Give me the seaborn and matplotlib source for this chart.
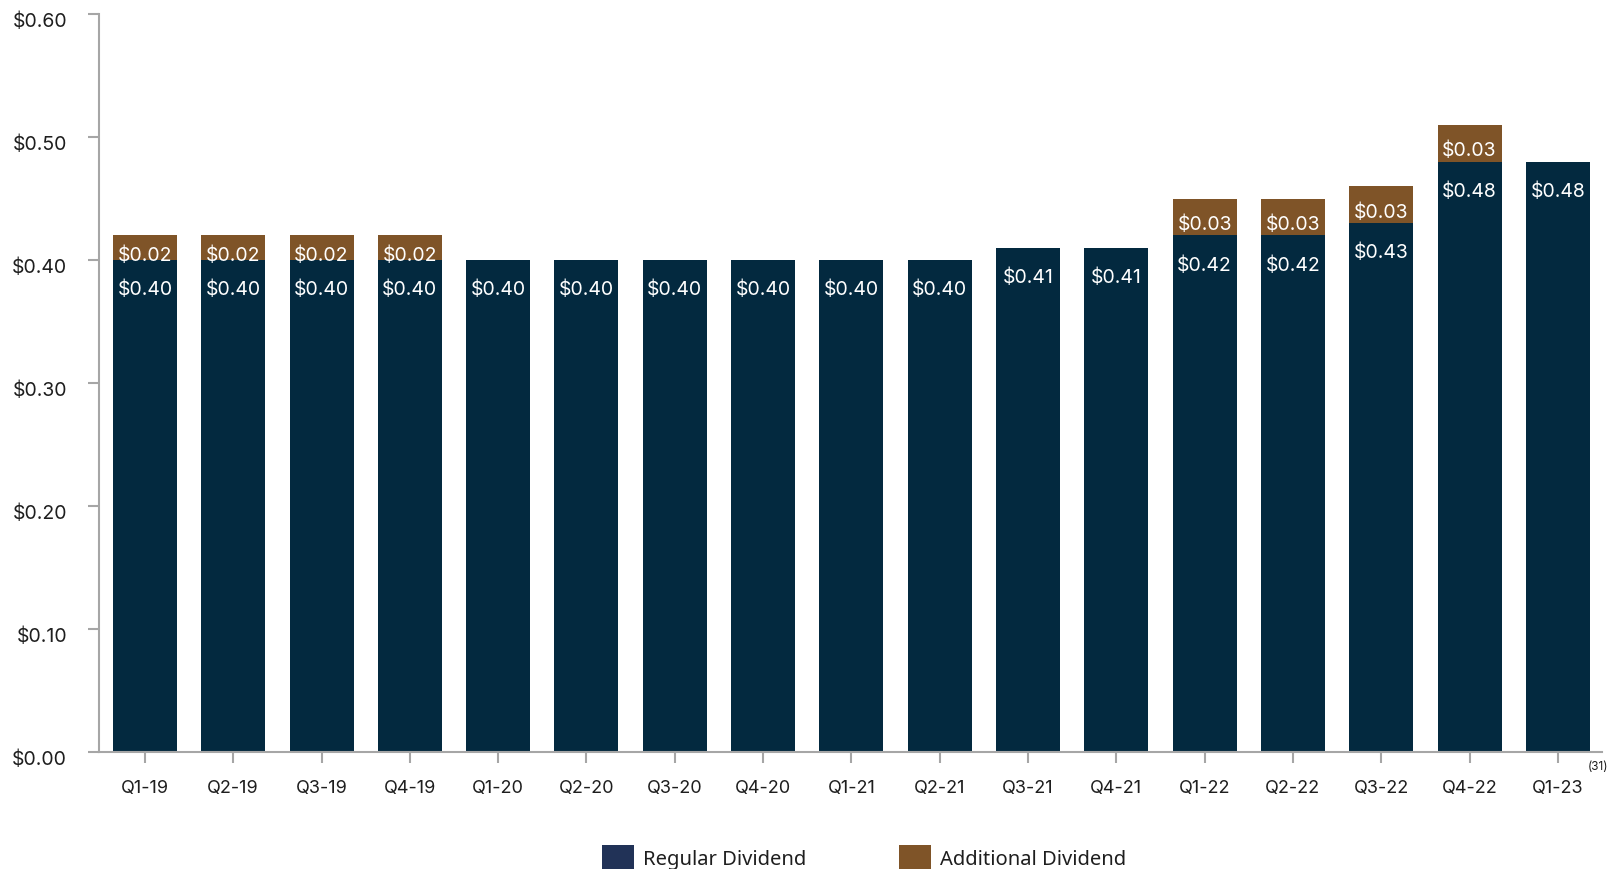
import matplotlib
matplotlib.use("Agg")
import matplotlib.pyplot as plt
import matplotlib.transforms as mtransforms
from matplotlib.patches import Patch
import seaborn as sns
import pandas as pd
import numpy as np

quarters = ["Q1-19", "Q2-19", "Q3-19", "Q4-19", "Q1-20", "Q2-20", "Q3-20", "Q4-20",
            "Q1-21", "Q2-21", "Q3-21", "Q4-21", "Q1-22", "Q2-22", "Q3-22", "Q4-22", "Q1-23"]
regular = [0.40, 0.40, 0.40, 0.40, 0.40, 0.40, 0.40, 0.40,
           0.40, 0.40, 0.41, 0.41, 0.42, 0.42, 0.43, 0.48, 0.48]
additional = [0.02, 0.02, 0.02, 0.02, 0.00, 0.00, 0.00, 0.00,
              0.00, 0.00, 0.00, 0.00, 0.03, 0.03, 0.03, 0.03, 0.00]
y_ticks = [0.0, 0.1, 0.2, 0.3, 0.4, 0.5, 0.6]

NAVY = "#03293F"
BROWN = "#7F5428"
LEGEND_NAVY = "#213257"
SPINE = "#A6A6A6"
TEXT = "#1E1E1E"

sns.set_theme(style="white")
plt.rcParams["font.family"] = ["Inter", "DejaVu Sans"]

df = pd.DataFrame({"quarter": quarters, "regular": regular, "additional": additional})
df["total"] = [r + a if a > 0 else np.nan for r, a in zip(regular, additional)]

fig = plt.figure(figsize=(16.09, 8.69), dpi=100)
ax = fig.add_axes([99 / 1609, 1 - 752 / 869, (1602 - 99) / 1609, (752 - 14) / 869])

# Stacked look: full height in brown, regular portion drawn on top in navy
sns.barplot(data=df, x="quarter", y="total", order=quarters, color=BROWN,
            saturation=1, width=0.725, linewidth=0, ax=ax)
sns.barplot(data=df, x="quarter", y="regular", order=quarters, color=NAVY,
            saturation=1, width=0.725, linewidth=0, ax=ax)

for i, (r, a) in enumerate(zip(regular, additional)):
    ax.annotate(f"${r:.2f}", xy=(i, r), xytext=(0, -21.5), textcoords="offset points",
                ha="center", va="center", color="white", fontsize=14)
    if a > 0:
        ax.annotate(f"${a:.2f}", xy=(i, r + a / 2), xytext=(0, -5.5),
                    textcoords="offset points", ha="center", va="center",
                    color="white", fontsize=14)

ax.set_ylim(0, 0.6)
ax.set_xlim(-0.52, len(quarters) - 0.5)
ax.set_yticks(y_ticks)
ax.set_yticklabels([f"${v:.2f}" for v in y_ticks])
ax.set_xlabel("")
ax.set_ylabel("")

for side in ["top", "right"]:
    ax.spines[side].set_visible(False)
for side in ["left", "bottom"]:
    ax.spines[side].set_color(SPINE)
    ax.spines[side].set_linewidth(1.5)

ax.tick_params(axis="y", which="major", direction="out", length=8, width=1.5,
               color=SPINE, pad=15, labelsize=14, labelcolor=TEXT, left=True)
ax.tick_params(axis="x", which="major", direction="out", length=8, width=1.5,
               color=SPINE, pad=12, labelsize=13, labelcolor=TEXT, bottom=True)

# y labels sit slightly below their tick marks
shift = mtransforms.ScaledTranslation(0, -6 / 100, fig.dpi_scale_trans)
for lbl in ax.get_yticklabels():
    lbl.set_transform(lbl.get_transform() + shift)

fig.text(1598 / 1609, 1 - 767 / 869, "(31)", fontsize=8.5, color=TEXT,
         ha="center", va="center")

handles = [Patch(facecolor=LEGEND_NAVY, edgecolor="none", label="Regular Dividend"),
           Patch(facecolor=BROWN, edgecolor="none", label="Additional Dividend")]
leg = fig.legend(handles=handles, loc="center", bbox_to_anchor=(0.537, 1 - 858 / 869),
                 ncol=2, frameon=False, handlelength=1.6, handleheight=1.6,
                 handletextpad=0.45, columnspacing=4.6, borderpad=0,
                 prop={"family": ["Noto Sans", "DejaVu Sans"], "size": 14.5})
for t in leg.get_texts():
    t.set_color(TEXT)

fig.savefig("out.png", dpi=100, facecolor="white")
